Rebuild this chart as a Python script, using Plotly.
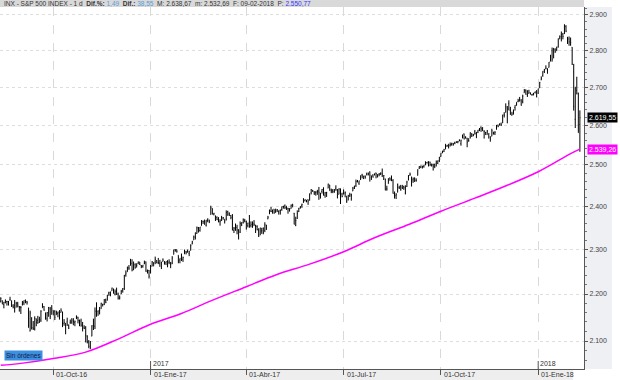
import math
import pandas as pd
import plotly.graph_objects as go

# ---------------- data ----------------
holidays = ["2016-09-05", "2016-11-24", "2016-12-26", "2017-01-02", "2017-01-16",
            "2017-02-20", "2017-04-14", "2017-05-29", "2017-07-04", "2017-09-04",
            "2017-11-23", "2017-12-25", "2018-01-01", "2018-01-15"]

opens = [
    # Aug 2016 (from 15th)
    2183, 2186, 2177, 2181, 2184, 2183, 2187, 2185, 2174, 2175, 2171, 2180, 2173,
    # Sep 2016
    2171, 2177, 2181, 2186, 2183, 2170, 2121, 2148, 2128, 2125, 2147, 2143, 2145, 2144, 2170, 2173, 2159, 2147, 2161, 2168, 2156,
    # Oct 2016
    2165, 2163, 2155, 2158, 2164, 2160, 2161, 2137, 2131, 2140, 2132, 2138, 2140, 2142, 2139, 2149, 2150, 2137, 2142, 2132, 2129,
    # Nov 2016
    2129, 2110, 2098, 2084, 2110, 2132, 2131, 2167, 2163, 2166, 2168, 2177, 2178, 2187, 2186, 2202, 2199, 2207, 2210, 2200, 2205,
    # Dec 2016
    2200, 2191, 2200, 2208, 2211, 2242, 2249, 2258, 2263, 2268, 2253, 2265, 2259, 2267, 2271, 2263, 2261, 2267, 2271, 2250, 2252,
    # Jan 2017
    2251, 2261, 2269, 2271, 2274, 2269, 2268, 2271, 2272, 2270, 2269, 2272, 2270, 2267, 2268, 2288, 2299, 2299, 2286, 2275,
    # Feb 2017
    2286, 2277, 2289, 2294, 2296, 2290, 2297, 2312, 2321, 2327, 2336, 2349, 2343, 2354, 2364, 2367, 2355, 2366, 2367,
    # Mar 2017
    2380, 2395, 2381, 2376, 2373, 2370, 2363, 2372, 2372, 2369, 2370, 2387, 2384, 2378, 2379, 2343, 2346, 2350, 2330, 2339, 2356, 2361, 2366,
    # Apr 2017
    2363, 2354, 2363, 2354, 2357, 2358, 2355, 2352, 2342, 2332, 2342, 2347, 2343, 2355, 2370, 2382, 2388, 2390, 2393,
    # May 2017
    2388, 2391, 2387, 2390, 2392, 2399, 2401, 2397, 2395, 2394, 2394, 2405, 2383, 2354, 2371, 2387, 2397, 2401, 2409, 2414, 2411, 2416,
    # Jun 2017
    2415, 2432, 2437, 2432, 2432, 2435, 2436, 2426, 2435, 2444, 2426, 2432, 2443, 2451, 2439, 2437, 2434, 2443, 2437, 2428, 2442, 2429,
    # Jul 2017
    2431, 2431, 2424, 2414, 2424, 2427, 2436, 2445, 2449, 2460, 2455, 2464, 2475, 2467, 2472, 2477, 2480, 2483, 2469, 2475,
    # Aug 2017
    2477, 2480, 2476, 2476, 2478, 2479, 2465, 2466, 2441, 2454, 2468, 2469, 2462, 2428, 2425, 2433, 2445, 2447, 2445, 2447, 2431, 2447, 2463,
    # Sep 2017
    2475, 2470, 2463, 2468, 2462, 2474, 2492, 2494, 2494, 2496, 2503, 2506, 2507, 2507, 2498, 2500, 2501, 2503, 2504, 2511,
    # Oct 2017
    2521, 2531, 2534, 2540, 2547, 2552, 2549, 2551, 2553, 2555, 2556, 2557, 2562, 2553, 2567, 2578, 2568, 2566, 2561, 2570, 2577, 2576,
    # Nov 2017
    2583, 2579, 2582, 2588, 2595, 2589, 2585, 2581, 2576, 2578, 2570, 2572, 2583, 2580, 2589, 2600, 2600, 2603, 2606, 2627, 2634,
    # Dec 2017
    2645, 2657, 2639, 2626, 2629, 2646, 2652, 2662, 2667, 2666, 2661, 2685, 2692, 2688, 2683, 2684, 2680, 2682, 2686, 2690,
    # Jan 2018
    2684, 2698, 2719, 2731, 2743, 2751, 2746, 2753, 2770, 2799, 2785, 2802, 2803, 2809, 2835, 2845, 2846, 2847, 2867, 2833, 2832,
    # Feb 2018
    2816, 2809, 2741, 2615, 2691, 2685, 2601.78,
]

highs = [
    2193, 2186, 2183, 2188, 2185, 2185, 2194, 2186, 2178, 2187, 2183, 2183, 2174,
    2174, 2185, 2186, 2188, 2185, 2170, 2164, 2150, 2142, 2152, 2147, 2153, 2151, 2165, 2180, 2174, 2160, 2161, 2172, 2172, 2176,
    2165, 2165, 2164, 2162, 2165, 2169, 2162, 2146, 2138, 2149, 2135, 2145, 2148, 2148, 2143, 2154, 2151, 2145, 2147, 2140, 2133,
    2131, 2112, 2102, 2100, 2133, 2147, 2171, 2182, 2164, 2172, 2181, 2179, 2189, 2190, 2198, 2205, 2205, 2214, 2212, 2210, 2214,
    2203, 2197, 2209, 2213, 2242, 2252, 2260, 2264, 2278, 2277, 2272, 2268, 2268, 2272, 2271, 2264, 2264, 2274, 2272, 2254, 2253,
    2264, 2273, 2270, 2283, 2275, 2280, 2275, 2271, 2279, 2273, 2272, 2275, 2277, 2271, 2284, 2299, 2300, 2299, 2286, 2279,
    2290, 2283, 2299, 2296, 2299, 2296, 2311, 2319, 2331, 2338, 2352, 2351, 2351, 2367, 2366, 2368, 2367, 2371, 2368,
    2401, 2395, 2384, 2378, 2376, 2374, 2369, 2377, 2374, 2369, 2390, 2389, 2385, 2379, 2381, 2351, 2359, 2356, 2346, 2364, 2362, 2371, 2370,
    2366, 2361, 2379, 2364, 2364, 2367, 2356, 2355, 2348, 2349, 2349, 2350, 2362, 2356, 2377, 2392, 2398, 2392, 2393,
    2394, 2393, 2390, 2392, 2399, 2401, 2404, 2400, 2396, 2395, 2404, 2405, 2384, 2375, 2390, 2396, 2400, 2406, 2419, 2416, 2415, 2416,
    2430, 2441, 2439, 2436, 2436, 2439, 2446, 2432, 2441, 2445, 2434, 2434, 2454, 2451, 2442, 2441, 2441, 2450, 2441, 2443, 2442, 2432,
    2440, 2435, 2424, 2427, 2432, 2430, 2446, 2449, 2464, 2463, 2461, 2474, 2478, 2473, 2474, 2481, 2481, 2484, 2474, 2477,
    2479, 2481, 2477, 2480, 2481, 2491, 2475, 2466, 2449, 2467, 2469, 2474, 2465, 2435, 2431, 2454, 2449, 2451, 2451, 2449, 2450, 2461, 2475,
    2481, 2471, 2469, 2469, 2467, 2489, 2497, 2498, 2498, 2500, 2509, 2507, 2509, 2508, 2503, 2503, 2503, 2511, 2511, 2520,
    2529, 2535, 2540, 2552, 2550, 2552, 2556, 2555, 2555, 2558, 2559, 2560, 2564, 2563, 2576, 2579, 2572, 2568, 2567, 2582, 2580, 2578,
    2588, 2583, 2588, 2593, 2597, 2595, 2587, 2583, 2588, 2579, 2572, 2591, 2583, 2585, 2601, 2602, 2605, 2607, 2627, 2634, 2657,
    2650, 2665, 2648, 2635, 2641, 2652, 2660, 2669, 2674, 2668, 2680, 2695, 2694, 2692, 2693, 2686, 2682, 2685, 2688, 2692,
    2696, 2714, 2729, 2743, 2749, 2759, 2751, 2768, 2788, 2808, 2807, 2806, 2810, 2833, 2842, 2853, 2849, 2873, 2871, 2838, 2839,
    2836, 2809, 2763, 2701, 2728, 2685, 2638.67,
]

lows = [
    2182, 2178, 2169, 2180, 2175, 2175, 2186, 2172, 2169, 2160, 2171, 2171, 2162,
    2157, 2175, 2176, 2180, 2177, 2128, 2120, 2124, 2123, 2122, 2131, 2136, 2138, 2140, 2170, 2164, 2145, 2141, 2151, 2146, 2156,
    2154, 2144, 2155, 2150, 2145, 2160, 2129, 2132, 2114, 2132, 2125, 2136, 2136, 2133, 2131, 2146, 2137, 2131, 2130, 2120, 2125,
    2097, 2095, 2085, 2084, 2110, 2123, 2125, 2151, 2153, 2156, 2168, 2173, 2176, 2180, 2186, 2196, 2195, 2207, 2201, 2197, 2198,
    2188, 2188, 2200, 2203, 2209, 2238, 2249, 2253, 2263, 2250, 2253, 2256, 2259, 2266, 2264, 2257, 2258, 2266, 2249, 2245, 2234,
    2245, 2261, 2261, 2266, 2268, 2266, 2260, 2255, 2272, 2265, 2264, 2259, 2266, 2257, 2266, 2288, 2294, 2292, 2268, 2268,
    2273, 2271, 2289, 2288, 2292, 2284, 2297, 2311, 2321, 2322, 2335, 2338, 2340, 2354, 2358, 2356, 2352, 2362, 2360,
    2380, 2380, 2378, 2365, 2367, 2362, 2354, 2365, 2368, 2359, 2366, 2377, 2377, 2369, 2343, 2337, 2342, 2334, 2322, 2337, 2353, 2359, 2362,
    2345, 2350, 2349, 2350, 2349, 2353, 2337, 2343, 2328, 2332, 2335, 2334, 2339, 2344, 2369, 2381, 2386, 2382, 2382,
    2384, 2386, 2380, 2380, 2389, 2394, 2393, 2391, 2382, 2387, 2394, 2397, 2357, 2353, 2370, 2386, 2394, 2396, 2408, 2411, 2409, 2403,
    2413, 2428, 2434, 2427, 2425, 2427, 2415, 2418, 2430, 2425, 2420, 2422, 2443, 2437, 2431, 2431, 2432, 2437, 2419, 2428, 2405, 2421,
    2428, 2421, 2408, 2414, 2422, 2413, 2436, 2441, 2446, 2457, 2451, 2463, 2467, 2465, 2466, 2474, 2474, 2459, 2463, 2469,
    2474, 2467, 2469, 2472, 2475, 2470, 2463, 2438, 2437, 2454, 2461, 2460, 2430, 2418, 2417, 2433, 2441, 2437, 2441, 2439, 2428, 2446, 2462,
    2473, 2447, 2456, 2458, 2459, 2474, 2490, 2492, 2491, 2493, 2499, 2503, 2496, 2497, 2496, 2486, 2492, 2496, 2502, 2507,
    2520, 2529, 2532, 2539, 2545, 2541, 2546, 2548, 2548, 2552, 2555, 2554, 2559, 2548, 2567, 2564, 2566, 2544, 2558, 2566, 2570, 2572,
    2576, 2567, 2580, 2585, 2583, 2585, 2566, 2575, 2576, 2566, 2558, 2572, 2576, 2575, 2589, 2595, 2600, 2598, 2606, 2620, 2633,
    2605, 2639, 2627, 2625, 2628, 2638, 2651, 2660, 2662, 2651, 2657, 2685, 2680, 2674, 2683, 2680, 2677, 2678, 2683, 2673,
    2682, 2698, 2719, 2728, 2738, 2748, 2736, 2753, 2770, 2769, 2778, 2793, 2798, 2808, 2831, 2825, 2831, 2846, 2851, 2818, 2813,
    2813, 2760, 2638, 2593, 2681, 2581, 2532.69,
]

closes = [
    2190, 2178, 2182, 2187, 2184, 2183, 2187, 2175, 2172, 2169, 2180, 2176, 2171,
    2171, 2180, 2186, 2186, 2181, 2128, 2159, 2127, 2126, 2147, 2139, 2139, 2140, 2163, 2177, 2165, 2146, 2160, 2171, 2151, 2168,
    2161, 2150, 2160, 2161, 2154, 2164, 2137, 2139, 2133, 2133, 2127, 2140, 2144, 2141, 2141, 2151, 2143, 2139, 2133, 2126, 2126,
    2112, 2098, 2089, 2085, 2132, 2140, 2163, 2167, 2164, 2164, 2180, 2177, 2187, 2182, 2198, 2203, 2205, 2213, 2202, 2205, 2199,
    2191, 2192, 2205, 2212, 2241, 2246, 2260, 2257, 2272, 2253, 2262, 2258, 2263, 2271, 2265, 2261, 2264, 2269, 2250, 2249, 2239,
    2258, 2271, 2269, 2277, 2269, 2269, 2275, 2270, 2275, 2268, 2272, 2264, 2271, 2265, 2280, 2298, 2297, 2295, 2281, 2279,
    2280, 2281, 2297, 2293, 2293, 2295, 2308, 2316, 2328, 2338, 2349, 2347, 2351, 2365, 2363, 2364, 2367, 2370, 2364,
    2396, 2382, 2383, 2375, 2368, 2363, 2365, 2373, 2373, 2365, 2385, 2381, 2378, 2373, 2344, 2348, 2346, 2344, 2342, 2359, 2361, 2368, 2363,
    2359, 2360, 2353, 2357, 2356, 2357, 2354, 2345, 2329, 2349, 2342, 2338, 2356, 2349, 2374, 2389, 2387, 2389, 2384,
    2388, 2391, 2388, 2390, 2399, 2399, 2397, 2400, 2394, 2391, 2402, 2401, 2357, 2366, 2382, 2394, 2398, 2404, 2415, 2416, 2413, 2412,
    2430, 2439, 2436, 2429, 2433, 2434, 2432, 2429, 2440, 2438, 2432, 2433, 2453, 2437, 2436, 2435, 2438, 2439, 2419, 2441, 2420, 2423,
    2429, 2433, 2410, 2425, 2427, 2426, 2443, 2448, 2459, 2459, 2461, 2474, 2473, 2473, 2470, 2477, 2478, 2475, 2472, 2470,
    2476, 2478, 2472, 2477, 2481, 2475, 2474, 2438, 2441, 2466, 2465, 2468, 2430, 2426, 2428, 2453, 2444, 2439, 2443, 2444, 2446, 2458, 2472,
    2477, 2458, 2466, 2465, 2461, 2488, 2496, 2498, 2496, 2500, 2504, 2507, 2508, 2501, 2502, 2497, 2497, 2507, 2510, 2519,
    2529, 2535, 2538, 2552, 2549, 2545, 2551, 2555, 2551, 2553, 2558, 2559, 2561, 2562, 2575, 2565, 2569, 2557, 2560, 2581, 2573, 2575,
    2579, 2580, 2588, 2591, 2591, 2594, 2585, 2582, 2585, 2579, 2565, 2586, 2579, 2582, 2599, 2597, 2602, 2601, 2627, 2626, 2648,
    2642, 2639, 2630, 2629, 2637, 2652, 2660, 2664, 2663, 2652, 2676, 2690, 2681, 2679, 2685, 2683, 2681, 2683, 2688, 2674,
    2696, 2713, 2724, 2743, 2748, 2751, 2748, 2768, 2786, 2776, 2803, 2798, 2810, 2833, 2839, 2838, 2839, 2873, 2854, 2822, 2824,
    2822, 2762, 2649, 2695, 2682, 2581.00, 2619.55,
]

# 200-session moving average (magenta), read at month starts
ma_dates = ["2016-08-15", "2016-09-01", "2016-10-03", "2016-11-01", "2016-12-01",
            "2017-01-03", "2017-02-01", "2017-03-01", "2017-04-03", "2017-05-01",
            "2017-06-01", "2017-07-03", "2017-08-01", "2017-09-01", "2017-10-02",
            "2017-11-01", "2017-12-01", "2018-01-02", "2018-02-01", "2018-02-09"]
ma_values = [2050, 2054, 2064, 2077, 2104, 2135, 2158, 2185, 2216, 2242,
             2266, 2294, 2326, 2358, 2388, 2419, 2450, 2483, 2528, 2539.26]

y_ticks = [2100, 2200, 2300, 2400, 2500, 2600, 2700, 2800, 2900]
q_dates = ["2016-10-03", "2017-01-03", "2017-04-03", "2017-07-03", "2017-10-02", "2018-01-02"]
q_labels = ["01-Oct-16", "01-Ene-17", "01-Abr-17", "01-Jul-17", "01-Oct-17", "01-Ene-18"]
year_dates = ["2017-01-03", "2018-01-02"]
year_labels = ["2017", "2018"]

dates = pd.bdate_range("2016-08-15", "2018-02-09", freq="C", holidays=holidays)
assert len(dates) == len(opens) == len(highs) == len(lows) == len(closes), \
    (len(dates), len(opens), len(highs), len(lows), len(closes))


def es(v, dec=2):
    s = f"{v:,.{dec}f}"
    return s.replace(",", "X").replace(".", ",").replace("X", ".")


# ---------------- figure ----------------
W, H = 620, 380
ML, MR, MT, MB = 0, 36, 7, 11
PW, PH = W - ML - MR, H - MT - MB
FONT = "Liberation Sans"

fig = go.Figure()
fig.add_trace(go.Ohlc(
    x=dates, open=opens, high=highs, low=lows, close=closes,
    increasing=dict(line=dict(color="#000000", width=1)),
    decreasing=dict(line=dict(color="#000000", width=1)),
    tickwidth=0.3, showlegend=False, hoverinfo="skip",
))
fig.add_trace(go.Scatter(
    x=ma_dates, y=ma_values, mode="lines",
    line=dict(color="#ff00ff", width=1.5, shape="spline"),
    showlegend=False, hoverinfo="skip",
))

minor_vals = [v for v in range(2060, 2921, 20) if v % 100 != 0]

fig.update_layout(
    width=W, height=H,
    margin=dict(l=ML, r=MR, t=MT, b=MB, pad=0),
    paper_bgcolor="white", plot_bgcolor="white",
    font=dict(family=FONT, size=7, color="#333333"),
    xaxis=dict(
        type="date",
        range=["2016-08-12 12:00", "2018-02-13 16:00"],
        rangebreaks=[dict(bounds=["sat", "mon"]), dict(values=holidays)],
        rangeslider=dict(visible=False),
        tickmode="array", tickvals=q_dates, showticklabels=False,
        ticks="outside", ticklen=5, tickcolor="#555555",
        showline=True, linecolor="#555555", linewidth=1,
        showgrid=True, gridcolor="#d9d9d9", griddash="dash", gridwidth=1,
        zeroline=False, fixedrange=True,
    ),
    yaxis=dict(
        type="log", side="right",
        range=[math.log10(2042.6), math.log10(2923)],
        tickmode="array", tickvals=y_ticks, ticktext=[es(v, 0) for v in y_ticks],
        ticks="outside", ticklen=3, tickcolor="#555555",
        tickfont=dict(size=7, color="#444444"),
        showline=True, linecolor="#555555", linewidth=1,
        showgrid=True, gridcolor="#dedede", griddash="dot", gridwidth=1,
        minor=dict(tickmode="array", tickvals=minor_vals, ticks="outside",
                   ticklen=2, tickcolor="#777777", showgrid=False),
        zeroline=False, fixedrange=True,
    ),
)

shapes = [
    # header strip
    dict(type="rect", xref="paper", yref="paper", x0=0, x1=1, y0=1, y1=1 + MT / PH,
         fillcolor="#d9d9d9", line=dict(width=0), layer="below"),
    # right price panel
    dict(type="rect", xref="paper", yref="paper", x0=1, x1=1 + 28 / PW, y0=0, y1=1,
         fillcolor="#eef0f4", line=dict(width=0), layer="below"),
    # bottom date strip
    dict(type="rect", xref="paper", yref="paper", x0=0, x1=573 / PW, y0=-MB / PH, y1=0,
         fillcolor="#eeeeee", line=dict(width=0), layer="below"),
]
for d in year_dates:
    shapes.append(dict(type="line", xref="x", yref="paper", x0=d, x1=d, y0=0, y1=8 / PH,
                       line=dict(color="#555555", width=1)))
fig.update_layout(shapes=shapes)

ann = []
for d, lab in zip(q_dates, q_labels):
    ann.append(dict(x=d, y=0, xref="x", yref="paper", text=lab, showarrow=False,
                    xanchor="left", yanchor="top", xshift=1, yshift=0,
                    font=dict(size=7, color="#333333")))
for d, lab in zip(year_dates, year_labels):
    ann.append(dict(x=d, y=0, xref="x", yref="paper", text=lab, showarrow=False,
                    xanchor="left", yanchor="bottom", xshift=0, yshift=0,
                    font=dict(size=7, color="#333333")))

last_c, prev_c = closes[-1], closes[-2]
dif = last_c - prev_c
difp = dif / prev_c * 100
header = (f"INX - S&P 500 INDEX - 1 d  <b>Dif.%:</b> <span style='color:#5b9bd5'>{es(difp)}</span>  "
          f"<b>Dif.:</b> <span style='color:#5b9bd5'>{es(dif)}</span>  "
          f"M: {es(highs[-1])}  m: {es(lows[-1])}  F: 09-02-2018  "
          f"P: <span style='color:#3333ff'>2.550,77</span>")
ann.append(dict(x=0.003, y=1 + MT / PH / 2, xref="paper", yref="paper", text=header,
                showarrow=False, xanchor="left", yanchor="middle",
                font=dict(size=6.5, color="#333333")))

# last value boxes on price axis
ann.append(dict(x=1, y=math.log10(last_c), xref="paper", yref="y", text=es(last_c),
                showarrow=False, xanchor="left", yanchor="middle", xshift=3,
                bgcolor="#000000", font=dict(size=7, color="#ffffff"), borderpad=1))
ann.append(dict(x=1, y=math.log10(ma_values[-1]), xref="paper", yref="y", text=es(ma_values[-1]),
                showarrow=False, xanchor="left", yanchor="middle", xshift=3,
                bgcolor="#ff00ff", font=dict(size=7, color="#ffffff"), borderpad=1))

# orders tag
ann.append(dict(x=4 / PW, y=(369 - 355) / PH, xref="paper", yref="paper", text="Sin órdenes",
                showarrow=False, xanchor="left", yanchor="middle",
                bgcolor="#3d8fe0", font=dict(size=6.5, color="#10204a"), borderpad=1))

fig.update_layout(annotations=ann)

fig.write_html("out.html", config={"displayModeBar": False},
               post_script="document.body.style.margin='0';")
